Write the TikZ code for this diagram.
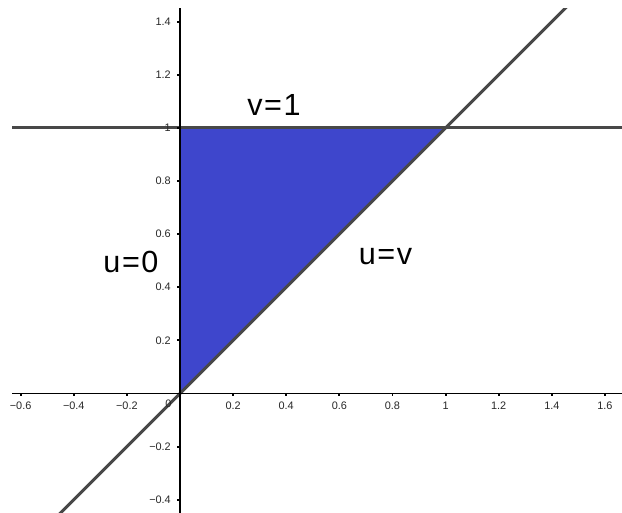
\documentclass[tikz,border=0pt]{standalone}
\usepackage{fontspec}
\setmainfont{Liberation Sans}
\definecolor{fillblue}{RGB}{62,70,204}
\definecolor{linegray}{RGB}{72,72,72}
\definecolor{ticktext}{RGB}{40,40,40}
\newcommand{\eqk}{\kern0.45pt=\kern0.45pt}
\tikzset{
  curveline/.style={draw=linegray, line width=0.85pt},
  axisline/.style={draw=black, line width=0.55pt},
  ticklbl/.style={inner sep=0pt, text=ticktext, font=\fontsize{3.1}{3.6}\selectfont},
  biglbl/.style={inner sep=0pt, anchor=base, text=black, font=\fontsize{8.7}{10}\selectfont}
}
\begin{document}
\begin{tikzpicture}[x=2.656cm,y=2.656cm]
\useasboundingbox (-0.6777,-0.4499) rectangle (1.6642,1.4816);
\fill[white] (-0.6777,-0.4499) rectangle (1.6642,1.4816);
\begin{scope}
\clip (-0.6325,-0.4499) rectangle (1.6642,1.4514);
% region
\fill[fillblue] (0,0) -- (0,1) -- (1,1) -- cycle;
% lines
\draw[curveline] (-0.6325,1) -- (1.6642,1);
\draw[curveline] (-0.46,-0.46) -- (1.47,1.47);
% axes
\draw[axisline] (-0.6325,0) -- (1.6642,0);
\draw[axisline] (0,-0.4499) -- (0,1.4514);
% ticks
\foreach \t in {-0.6,-0.4,-0.2,0.2,0.4,0.6,0.8,1,1.2,1.4,1.6}
  \draw[axisline] (\t,0) -- (\t,-0.011);
\foreach \t in {-0.4,-0.2,0.2,0.4,0.6,0.8,1,1.2,1.4}
  \draw[axisline] (0,\t) -- (-0.011,\t);
\end{scope}
% x tick labels
\foreach \t/\l [count=\i] in {-0.6/−0.6,-0.4/−0.4,-0.2/−0.2,0.2/0.2,0.4/0.4,0.6/0.6,0.8/0.8,1/1,1.2/1.2,1.4/1.4,1.6/1.6}
  \node[ticklbl, anchor=base] (xl\i) at (\t,-0.062) {\l};
% y tick labels
\foreach \t/\l [count=\i] in {-0.4/−0.4,-0.2/−0.2,0.2/0.2,0.4/0.4,0.6/0.6,0.8/0.8,1/1,1.2/1.2,1.4/1.4}
  \node[ticklbl, anchor=base east] (yl\i) at (-0.032,\t-0.014) {\l};
\node[ticklbl, anchor=base] (orig) at (-0.044,-0.054) {0};
% big labels
\node[biglbl] (lv1) at (0.354,1.046) {v\eqk1};
\node[biglbl] (lu0) at (-0.1845,0.4548) {u\eqk0};
\node[biglbl] (luv) at (0.7737,0.4864) {u\eqk v};
\end{tikzpicture}
\end{document}
